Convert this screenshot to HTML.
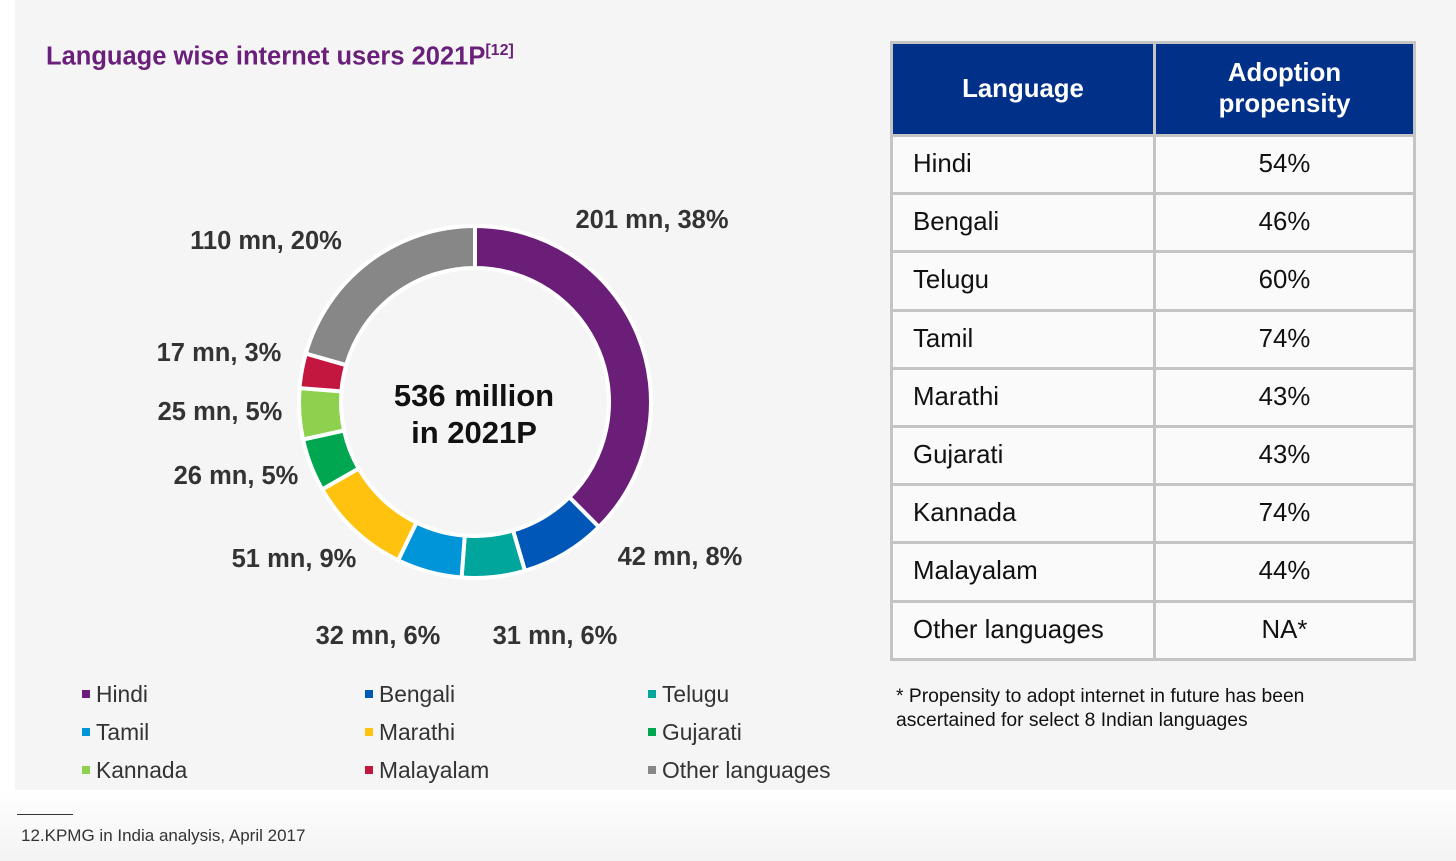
<!DOCTYPE html>
<html><head><meta charset="utf-8"><style>
body{margin:0;width:1456px;height:861px;background:#fff;font-family:"Liberation Sans",Arial,sans-serif;position:relative;overflow:hidden}
#bg{position:absolute;left:15px;top:0;width:1441px;height:790px;background:#f5f5f5}
#foot{position:absolute;left:0;top:790px;width:1456px;height:71px;background:linear-gradient(#fff,#f3f3f3)}
.title{position:absolute;left:46px;top:42px;font-size:25.5px;font-weight:bold;color:#6a1f7a}
.title sup{font-size:16px}
table{position:absolute;left:890px;top:41px;border-collapse:collapse;width:526px}
td,th{border:3px solid #c4c4c4;font-size:25.8px;color:#111}
th{background:#003087;color:#fff;font-weight:bold;height:88px;line-height:31px}
td{height:55.2px;background:#fafafa;padding:0}
td:first-child{padding-left:20px;width:240px}
td:last-child{text-align:center}
.legend{position:absolute;font-size:22.8px;color:#333}
.legend span{display:inline-block;width:8px;height:8px;margin-right:6px;vertical-align:middle;position:relative;top:-2px}
.note{position:absolute;left:896px;top:685px;font-size:19.3px;color:#111;line-height:24px}
.src{position:absolute;left:21px;top:826px;font-size:17px;color:#333}
.rule{position:absolute;left:17px;top:814px;width:56px;border-top:1px solid #333}
</style></head><body>
<div id="bg"></div>
<div id="foot"></div>
<div class="title">Language wise internet users 2021P<sup>[12]</sup></div>
<svg id="chart" width="1456" height="861" style="position:absolute;left:0;top:0">
<g id="slices"></g>
<text x="474" y="406" text-anchor="middle" font-size="31" font-weight="bold" fill="#111">536 million</text>
<text x="474" y="443" text-anchor="middle" font-size="31" font-weight="bold" fill="#111">in 2021P</text>
<g font-size="25.5" font-weight="bold" fill="#333" id="labels"></g>
</svg>
<script>
const categories=["Hindi","Bengali","Telugu","Tamil","Marathi","Gujarati","Kannada","Malayalam","Other languages"];
const values=[201,42,31,32,51,26,25,17,110];
const pcts=[38,8,6,6,9,5,5,3,20];
const colors=["#6a1e78","#0057b8","#00a69c","#0094d9","#ffc20e","#00a650","#8dd14f","#c4173f","#878787"];
const labelPos=[[652,228,"middle"],[680,565,"middle"],[555,644,"middle"],[378,644,"middle"],[294,567,"middle"],[236,484,"middle"],[220,420,"middle"],[219,361,"middle"],[266,249,"middle"]];
const cx=475,cy=402,R=176,r=134;
const total=values.reduce((a,b)=>a+b,0);
const NS="http://www.w3.org/2000/svg";
const g=document.getElementById('slices');
let a0=0;
function pt(rad,a){return [cx+rad*Math.sin(a),cy-rad*Math.cos(a)];}
values.forEach((v,i)=>{
  const a1=a0+v/total*2*Math.PI;
  const large=(a1-a0)>Math.PI?1:0;
  const p1=pt(R,a0),p2=pt(R,a1),p3=pt(r,a1),p4=pt(r,a0);
  const p=document.createElementNS(NS,'path');
  p.setAttribute('d',`M${p1}A${R},${R} 0 ${large} 1 ${p2}L${p3}A${r},${r} 0 ${large} 0 ${p4}Z`);
  p.setAttribute('fill',colors[i]);p.setAttribute('stroke','#fff');p.setAttribute('stroke-width','4');
  
  
  g.appendChild(p);
  const t=document.createElementNS(NS,'text');
  t.setAttribute('x',labelPos[i][0]);t.setAttribute('y',labelPos[i][1]);t.setAttribute('text-anchor',labelPos[i][2]);
  t.textContent=values[i]+' mn, '+pcts[i]+'%';
  
  
  document.getElementById('labels').appendChild(t);
  a0=a1;
});
</script>
<div class="legend" style="left:82px;top:681px"><span style="background:#6a1e78"></span>Hindi</div>
<div class="legend" style="left:365px;top:681px"><span style="background:#0057b8"></span>Bengali</div>
<div class="legend" style="left:648px;top:681px"><span style="background:#00a69c"></span>Telugu</div>
<div class="legend" style="left:82px;top:719px"><span style="background:#0094d9"></span>Tamil</div>
<div class="legend" style="left:365px;top:719px"><span style="background:#ffc20e"></span>Marathi</div>
<div class="legend" style="left:648px;top:719px"><span style="background:#00a650"></span>Gujarati</div>
<div class="legend" style="left:82px;top:757px"><span style="background:#8dd14f"></span>Kannada</div>
<div class="legend" style="left:365px;top:757px"><span style="background:#c4173f"></span>Malayalam</div>
<div class="legend" style="left:648px;top:757px"><span style="background:#878787"></span>Other languages</div>
<table>
<tr><th>Language</th><th>Adoption<br>propensity</th></tr>
<tr><td>Hindi</td><td>54%</td></tr>
<tr><td>Bengali</td><td>46%</td></tr>
<tr><td>Telugu</td><td>60%</td></tr>
<tr><td>Tamil</td><td>74%</td></tr>
<tr><td>Marathi</td><td>43%</td></tr>
<tr><td>Gujarati</td><td>43%</td></tr>
<tr><td>Kannada</td><td>74%</td></tr>
<tr><td>Malayalam</td><td>44%</td></tr>
<tr><td>Other languages</td><td>NA*</td></tr>
</table>
<div class="note">* Propensity to adopt internet in future has been<br>ascertained for select 8 Indian languages</div>
<div class="rule"></div>
<div class="src">12.KPMG in India analysis, April 2017</div>
</body></html>
